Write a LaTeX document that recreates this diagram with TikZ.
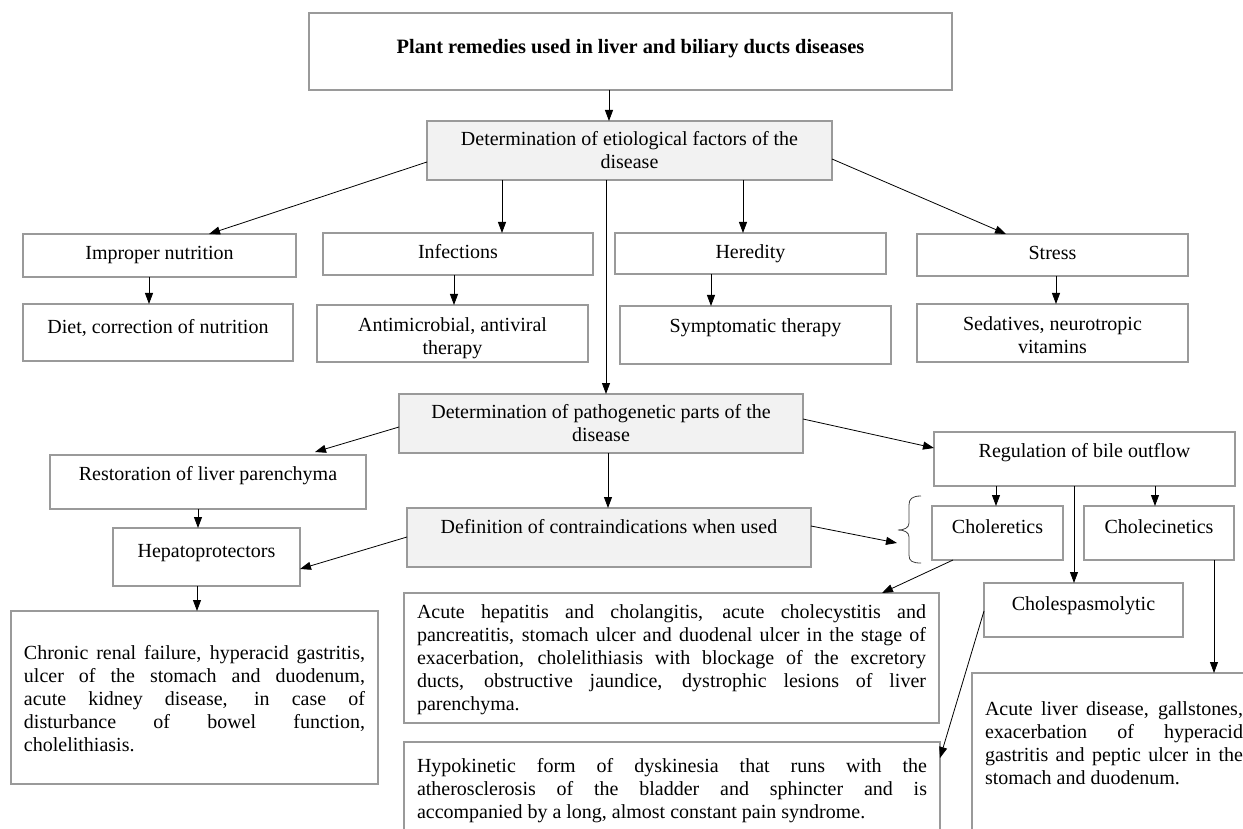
\documentclass[tikz,border=0pt]{standalone}
\usepackage{fontspec}
\setmainfont{Liberation Serif}
\usetikzlibrary{arrows.meta}
\definecolor{bordergray}{HTML}{9A9A9A}
\definecolor{fillgray}{HTML}{F2F2F2}
\newcommand\bx[7]{\node[#6, anchor=north west, inner sep=0pt, outer sep=0pt] (#1) at (#2,#3) {\parbox[c][#5pt][t]{#4pt}{#7}};}
\newcommand\ct[2]{\vspace*{#1pt}\centering\strut #2\par}
\newcommand\jt[2]{\vspace*{#1pt}\tolerance=9999\leftskip=13pt\rightskip=13pt\strut #2\par}
\newcommand\vArr[3]{\path ([xshift=#2pt]#1.south west) coordinate (tmpv); \draw[arr] (tmpv) -- (tmpv |- #3.north);}
\begin{document}
\begin{tikzpicture}[x=1pt,y=-1pt,
  font=\fontsize{20}{23}\selectfont,
  box/.style={draw=bordergray, line width=1.2pt, fill=white},
  gbox/.style={draw=bordergray, line width=1.2pt, fill=fillgray},
  arr/.style={draw=black, line width=0.8pt, -{Triangle[length=11pt,width=8pt]}},
  brace/.style={draw=black!75, line width=0.8pt}]
\useasboundingbox (0,0) rectangle (1243,829);
\clip (0,0) rectangle (1243,829);
\fill[white] (0,0) rectangle (1243,829);
% boxes
\bx{title}{309}{13}{643}{77}{box}{\ct{24}{\bfseries\fontsize{20.4}{23}\selectfont Plant remedies used in liver and biliary ducts diseases}}
\bx{etio}{427}{121}{405}{59}{gbox}{\ct{8}{Determination of etiological factors of the\\disease}}
\bx{impr}{23}{234}{273}{43}{box}{\ct{9}{Improper nutrition}}
\bx{infe}{323}{233}{270}{42}{box}{\ct{9}{Infections}}
\bx{here}{615}{233}{271}{41}{box}{\ct{9}{Heredity}}
\bx{stre}{917}{234}{271}{42}{box}{\ct{9}{Stress}}
\bx{diet}{23}{304}{270}{57}{box}{\ct{13}{Diet, correction of nutrition}}
\bx{anti}{317}{305}{271}{57}{box}{\ct{10}{Antimicrobial, antiviral\\therapy}}
\bx{symp}{620}{306}{271}{58}{box}{\ct{10}{Symptomatic therapy}}
\bx{seda}{917}{304}{271}{58}{box}{\ct{10}{Sedatives, neurotropic\\vitamins}}
\bx{path}{399}{394}{404}{59}{gbox}{\ct{8}{Determination of pathogenetic parts of the\\disease}}
\bx{rest}{50}{455}{316}{54}{box}{\ct{9}{Restoration of liver parenchyma}}
\bx{regu}{934}{432}{301}{54}{box}{\ct{9}{Regulation of bile outflow}}
\bx{cont}{407}{508}{404}{59}{gbox}{\ct{9}{Definition of contraindications when used}}
\bx{hepa}{113}{528}{187}{58}{box}{\ct{13}{Hepatoprotectors}}
\bx{chlr}{932}{506}{131}{54}{box}{\ct{11}{Choleretics}}
\bx{chlc}{1084}{506}{150}{54}{box}{\ct{11}{Cholecinetics}}
\bx{chsp}{984}{583}{199}{54}{box}{\ct{11}{Cholespasmolytic}}
\bx{chro}{11}{611}{367}{173}{box}{\jt{32}{Chronic renal failure, hyperacid gastritis,\linebreak ulcer of the stomach and duodenum,\linebreak acute kidney disease, in case of\linebreak disturbance of bowel function,\linebreak cholelithiasis.}}
\bx{acut}{404}{593}{535}{130}{box}{\jt{9}{Acute hepatitis and cholangitis, acute cholecystitis and\linebreak pancreatitis, stomach ulcer and duodenal ulcer in the stage of\linebreak exacerbation, cholelithiasis with blockage of the excretory\linebreak ducts, obstructive jaundice, dystrophic lesions of liver\linebreak parenchyma.}}
\bx{hypo}{404}{742}{536}{100}{box}{\jt{14}{Hypokinetic form of dyskinesia that runs with the\linebreak atherosclerosis of the bladder and sphincter and is\linebreak accompanied by a long, almost constant pain syndrome.}}
\bx{aliv}{972}{673}{284}{180}{box}{\jt{26}{Acute liver disease, gallstones,\linebreak exacerbation of hyperacid\linebreak gastritis and peptic ulcer in the\linebreak stomach and duodenum.}}
% brace
\draw[brace] (921,496) .. controls (912,496) and (909,499) .. (909,505) -- (909,523) .. controls (909,528) and (904,530) .. (898,530) .. controls (904,530) and (909,532) .. (909,537) -- (909,555) .. controls (909,561) and (912,563) .. (921,563);
\coordinate (brtip) at (897,543);
% vertical arrows
\vArr{title}{300}{etio}
\vArr{etio}{75}{infe}
\vArr{etio}{316}{here}
\vArr{etio}{179}{path}
\vArr{impr}{126}{diet}
\vArr{infe}{131}{anti}
\vArr{here}{96}{symp}
\vArr{stre}{139}{seda}
\vArr{path}{209}{cont}
\vArr{rest}{148}{hepa}
\vArr{hepa}{84}{chro}
\vArr{regu}{62}{chlr}
\vArr{regu}{221}{chlc}
\vArr{regu}{140}{chsp}
\vArr{chlc}{130}{aliv}
% diagonal arrows
\draw[arr] ([yshift=-41pt]etio.north west) -- ([xshift=186pt]impr.north west);
\draw[arr] ([yshift=-38pt]etio.north east) -- ([xshift=89pt]stre.north west);
\draw[arr] ([yshift=-33pt]path.north west) -- ([xshift=265pt,yshift=3pt]rest.north west);
\draw[arr] ([yshift=-25pt]path.north east) -- ([yshift=-16pt]regu.north west);
\draw[arr] ([yshift=-29pt]cont.north west) -- ([yshift=-41pt]hepa.north east);
\draw[arr] ([yshift=-18pt]cont.north east) -- (brtip);
\draw[arr] ([xshift=21pt]chlr.south west) -- ([xshift=-57pt]acut.north east);
\draw[arr] ([yshift=-28pt]chsp.north west) -- ([yshift=-16pt]hypo.north east);
\end{tikzpicture}
\end{document}
